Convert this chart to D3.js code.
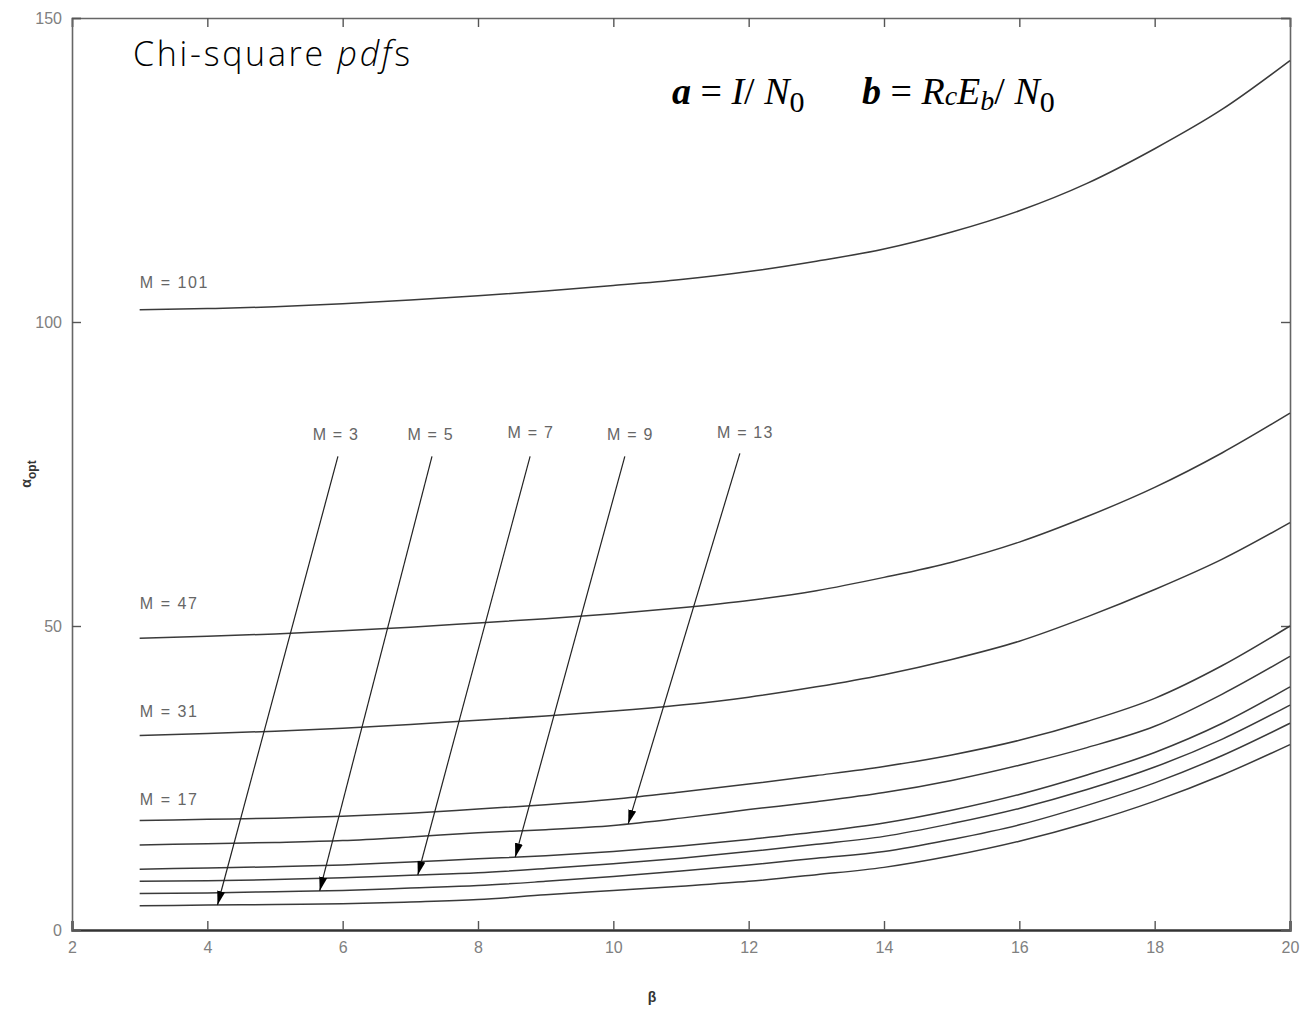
<!DOCTYPE html>
<html><head><meta charset="utf-8">
<script src="https://cdn.jsdelivr.net/npm/d3@7"></script>
<style>body{margin:0;background:#fff}svg{display:block}</style>
</head><body>
<script>
// ---- data ----
const betas = [3,4,5,6,7,8,9,10,11,12,13,14,15,16,17,18,19,20];
const M101 = [102,102.2,102.5,103,103.6,104.3,105.1,106,107,108.3,110,112,114.8,118.3,122.8,128.5,135,143];
const M47  = [48,48.3,48.7,49.2,49.8,50.5,51.2,52,53,54.2,55.8,58,60.5,63.8,68,72.8,78.5,85];
const M31  = [32,32.3,32.7,33.2,33.8,34.5,35.2,36,37,38.3,40,42,44.5,47.5,51.5,56,61,67];
const M17  = [18,18.2,18.4,18.7,19.2,19.9,20.6,21.5,22.7,24.0,25.4,26.9,28.8,31.2,34.3,38.1,43.5,50];
const M13  = [14,14.2,14.4,14.7,15.3,16.0,16.5,17.2,18.4,19.8,21.1,22.6,24.6,27.1,30.0,33.5,38.8,45];
const M9   = [10,10.2,10.4,10.7,11.2,11.7,12.2,12.9,13.8,14.9,16.1,17.6,19.7,22.3,25.5,29.2,34.0,40];
const M7   = [8,8.1,8.3,8.6,9.0,9.4,10.1,10.9,11.8,12.9,14.1,15.4,17.5,20.0,23.1,26.8,31.4,37];
const M5   = [6,6.1,6.3,6.5,6.9,7.3,8.0,8.8,9.7,10.7,11.8,12.9,14.9,17.3,20.5,24.2,28.7,34];
const M3   = [4,4.1,4.2,4.3,4.6,5.0,5.8,6.5,7.2,8.0,9.1,10.3,12.2,14.6,17.6,21.2,25.5,30.5];
const seriesNames = ["M = 101","M = 47","M = 31","M = 17","M = 13","M = 9","M = 7","M = 5","M = 3"];
const seriesVals = [M101,M47,M31,M17,M13,M9,M7,M5,M3];
// labels placed at curve start (beta, alpha)
const curveLabels = ["M = 101","M = 47","M = 31","M = 17"];
const curveLabelAlpha = [105.6,52.8,35.0,20.5];
// arrow annotations: label text, label beta/alpha, start beta/alpha, target beta
const arrowLabels = ["M = 3","M = 5","M = 7","M = 9","M = 13"];
const arrowLabelBeta = [5.9,7.3,8.78,10.25,11.95];
const arrowLabelAlpha = [80.6,80.6,80.9,80.6,80.9];
const arrowStartBeta = [5.93,7.32,8.77,10.17,11.87];
const arrowStartAlpha = [77.9,77.9,77.9,77.9,78.4];
const arrowTargetBeta = [4.15,5.66,7.11,8.55,10.22];
const arrowTargetSeries = [M3,M5,M7,M9,M13];
const xTicks = [2,4,6,8,10,12,14,16,18,20];
const yTicks = [0,50,100,150];

// ---- drawing ----
const W=1302,H=1012;
const svg=d3.select("body").append("svg").attr("width",W).attr("height",H);
const x=d3.scaleLinear().domain([2,20]).range([72,1290]);
const y=d3.scaleLinear().domain([0,150]).range([930,18]);

svg.append("defs").append("marker").attr("id","ah").attr("viewBox","0 0 14 8")
  .attr("refX",14).attr("refY",4).attr("markerWidth",14).attr("markerHeight",8)
  .attr("markerUnits","userSpaceOnUse").attr("orient","auto")
  .append("path").attr("d","M0,0L14,4L0,8Z").attr("fill","#000");

// axes box
const tickFont="'Liberation Sans', Arial, sans-serif";
const gx=svg.append("g").attr("transform","translate(0,930)")
  .call(d3.axisBottom(x).tickValues(xTicks).tickSize(-9).tickPadding(12).tickFormat(d3.format("d")));
const gxt=svg.append("g").attr("transform","translate(0,18)")
  .call(d3.axisTop(x).tickValues(xTicks).tickSize(-9).tickFormat(""));
const gy=svg.append("g").attr("transform","translate(72,0)")
  .call(d3.axisLeft(y).tickValues(yTicks).tickSize(-9).tickPadding(10).tickFormat(d3.format("d")));
const gyr=svg.append("g").attr("transform","translate(1290,0)")
  .call(d3.axisRight(y).tickValues(yTicks).tickSize(-9).tickFormat(""));
[gx,gxt,gy,gyr].forEach(g=>{
  g.select(".domain").attr("stroke","#666").attr("stroke-width",1.6);
  g.selectAll(".tick line").attr("stroke","#555").attr("stroke-width",1.4);
  g.selectAll("text").attr("font-family",tickFont).attr("font-size",16).attr("fill","#808080");
});
gx.select(".domain").attr("stroke","#333").attr("stroke-width",2.4);
gy.selectAll("text").attr("dy","0.32em");

// curves
const line=d3.line().x((d,i)=>x(betas[i])).y(d=>y(d)).curve(d3.curveMonotoneX);
svg.append("g").selectAll("path").data(seriesVals).join("path")
  .attr("d",d=>line(d)).attr("fill","none").attr("stroke","#3a3a3a").attr("stroke-width",1.5);

// curve labels
const labFont="'Liberation Sans', Arial, sans-serif";
svg.append("g").selectAll("text").data(curveLabels).join("text")
  .attr("x",x(betas[0])).attr("y",(d,i)=>y(curveLabelAlpha[i]))
  .attr("font-family",labFont).attr("font-size",16).attr("letter-spacing",1.6).attr("fill","#666").text(d=>d);

// arrows
const interp=(arr,b)=>{const i=Math.min(Math.floor(b)-3,arr.length-2);const t=b-betas[i];return arr[i]+(arr[i+1]-arr[i])*t;};
const ag=svg.append("g");
arrowLabels.forEach((lab,i)=>{
  ag.append("text").attr("x",x(arrowLabelBeta[i])).attr("y",y(arrowLabelAlpha[i]))
    .attr("text-anchor","middle").attr("font-family",labFont).attr("font-size",16).attr("letter-spacing",1.2).attr("fill","#666").text(lab);
  ag.append("line").attr("x1",x(arrowStartBeta[i])).attr("y1",y(arrowStartAlpha[i]))
    .attr("x2",x(arrowTargetBeta[i])).attr("y2",y(interp(arrowTargetSeries[i],arrowTargetBeta[i])))
    .attr("stroke","#222").attr("stroke-width",1.2).attr("marker-end","url(#ah)");
});

// axis titles
svg.append("text").attr("x",x(10.57)).attr("y",1002).attr("text-anchor","middle")
  .attr("font-family",labFont).attr("font-weight","bold").attr("font-size",14).attr("fill","#333").text("β");
const yl=svg.append("text").attr("transform","translate(31,"+y(75)+") rotate(-90)").attr("text-anchor","middle")
  .attr("font-family",labFont).attr("font-weight","bold").attr("font-size",14).attr("fill","#333");
yl.append("tspan").text("α");
yl.append("tspan").attr("dy",5).attr("font-size",12).text("opt");

// title
const t=svg.append("text").attr("x",133).attr("y",66).attr("font-family","'Open Sans', 'DejaVu Sans', sans-serif")
  .attr("font-size",34).attr("font-weight",300).attr("fill","#000").attr("textLength",277).attr("lengthAdjust","spacing");
t.append("tspan").text("Chi-square ");
t.append("tspan").attr("font-style","italic").text("pdf");
t.append("tspan").text("s");

// formula
const f=svg.append("text").attr("x",672).attr("y",104).attr("font-family","'Liberation Serif', 'Times New Roman', serif")
  .attr("font-size",38).attr("fill","#000");
f.append("tspan").attr("font-weight","bold").attr("font-style","italic").text("a");
f.append("tspan").text(" = ");
f.append("tspan").attr("font-style","italic").text("I");
f.append("tspan").text("/ ");
f.append("tspan").attr("font-style","italic").text("N");
f.append("tspan").attr("dy",8).attr("font-size",30).text("0");
f.append("tspan").attr("dy",-8).attr("x",862).attr("font-weight","bold").attr("font-style","italic").text("b");
f.append("tspan").text(" = ");
f.append("tspan").attr("font-style","italic").text("R");
f.append("tspan").attr("font-style","italic").attr("font-size",28).attr("dy",1).text("c");
f.append("tspan").attr("font-style","italic").attr("dy",-1).text("E");
f.append("tspan").attr("font-style","italic").attr("font-size",28).attr("dy",6).text("b");
f.append("tspan").attr("dy",-6).text("/ ");
f.append("tspan").attr("font-style","italic").text("N");
f.append("tspan").attr("dy",8).attr("font-size",30).text("0");
</script>
</body></html>
